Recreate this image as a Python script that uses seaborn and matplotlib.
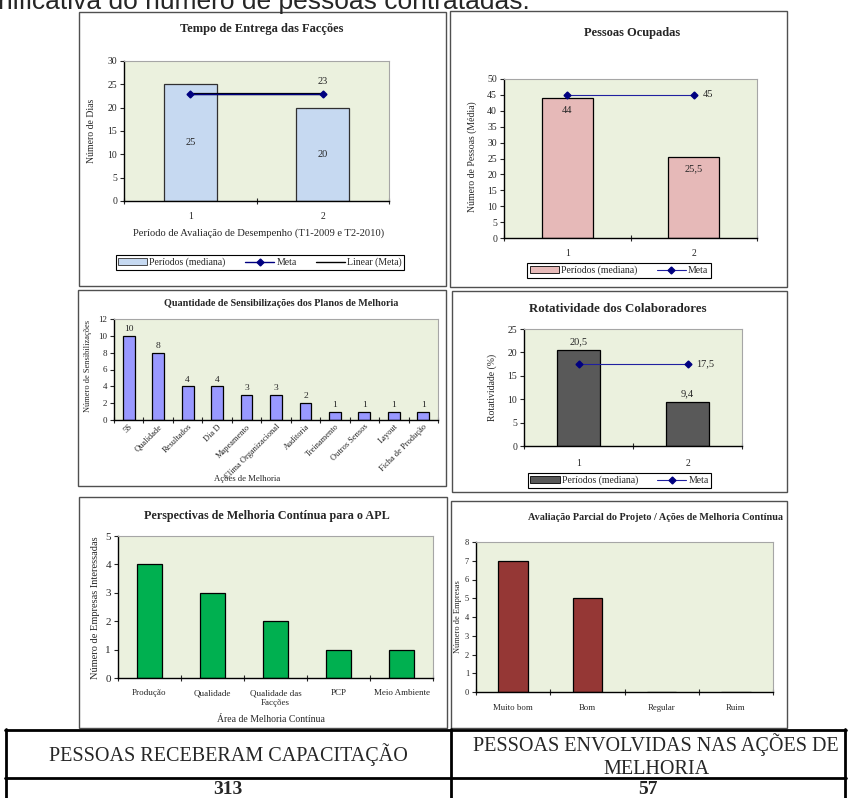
import numpy as np
import matplotlib
matplotlib.use("Agg")
import matplotlib.pyplot as plt
from matplotlib.patches import Rectangle, Patch
from matplotlib.lines import Line2D
import seaborn as sns

# ---------------- data ----------------
p1_periods = ["1", "2"]
p1_values = [25, 20]
p1_meta = [23, 23]

p2_periods = ["1", "2"]
p2_values = [44, 25.5]
p2_meta = [45, 45]

p3_actions = ["5S", "Qualidade", "Resultados", "Dia D", "Mapeamento",
              "Clima Organizacional", "Auditoria", "Treinamento",
              "Outros Sensos", "Layout", "Ficha de Produção"]
p3_values = [10, 8, 4, 4, 3, 3, 2, 1, 1, 1, 1]

p4_periods = ["1", "2"]
p4_values = [20.5, 9.4]
p4_meta = [17.5, 17.5]

p5_areas = ["Produção", "Qualidade", "Qualidade das\nFacções", "PCP", "Meio Ambiente"]
p5_values = [4, 3, 2, 1, 1]

p6_ratings = ["Muito bom", "Bom", "Regular", "Ruim"]
p6_values = [7, 5, 0, 0]

table_headers = ["PESSOAS RECEBERAM CAPACITAÇÃO", "PESSOAS ENVOLVIDAS NAS AÇÕES DE\nMELHORIA"]
table_values = ["313", "57"]

# ---------------- setup ----------------
sns.set_style("white")
plt.rcParams["font.family"] = ["Liberation Serif", "DejaVu Serif"]

W, H = 848, 798
fig = plt.figure(figsize=(W / 100, H / 100), dpi=100)
fig.patch.set_facecolor("white")

PLOT_BG = "#EBF1DE"
NAVY = "#000080"


def add_ax(x0, y0, x1, y1):
    return fig.add_axes([x0 / W, 1 - y1 / H, (x1 - x0) / W, (y1 - y0) / H])


def ftext(x, y, s, **kw):
    kw.setdefault("ha", "center")
    kw.setdefault("va", "center")
    return fig.text(x / W, 1 - y / H, s, **kw)


def box(x0, y0, x1, y1, lw=1.0, color="#505050"):
    fig.add_artist(Rectangle((x0 / W, 1 - y1 / H), (x1 - x0) / W, (y1 - y0) / H,
                             transform=fig.transFigure, fill=False,
                             edgecolor=color, lw=lw))


def hline(x0, x1, y, lw=2.0, color="black"):
    fig.add_artist(Line2D([x0 / W, x1 / W], [1 - y / H, 1 - y / H],
                          transform=fig.transFigure, color=color, lw=lw))


def vline(x, y0, y1, lw=2.0, color="black"):
    fig.add_artist(Line2D([x / W, x / W], [1 - y0 / H, 1 - y1 / H],
                          transform=fig.transFigure, color=color, lw=lw))


def style_axes(ax, n, ymax, ystep, yfs=6, xfs=6, xpad=8):
    ax.set_facecolor(PLOT_BG)
    ax.set_ylim(0, ymax)
    ax.set_yticks(np.arange(0, ymax + ystep / 2, ystep))
    ax.set_xlim(-0.5, n - 0.5)
    for s in ["left", "bottom"]:
        ax.spines[s].set_color("black")
        ax.spines[s].set_linewidth(1.0)
    for s in ["top", "right"]:
        ax.spines[s].set_color("#A6A6A6")
        ax.spines[s].set_linewidth(0.8)
    ax.tick_params(axis="y", direction="out", length=3, width=0.8,
                   labelsize=yfs, pad=2, left=True)
    ax.set_xticks(np.arange(-0.5, n), minor=True)
    ax.tick_params(axis="x", which="major", length=0, labelsize=xfs, pad=xpad)
    ax.tick_params(axis="x", which="minor", direction="inout", length=4,
                   width=0.8, bottom=True)
    ax.set_xlabel("")
    ax.set_ylabel("")
    ax.grid(False)


def legend(handles, labels, cx, cy, ncol, fs=7, colsp=2.0, hl=3.0):
    leg = fig.legend(handles, labels, loc="center",
                     bbox_to_anchor=(cx / W, 1 - cy / H), ncol=ncol,
                     fontsize=fs, frameon=True, fancybox=False,
                     edgecolor="black", framealpha=1, borderpad=0.25,
                     handlelength=hl, handletextpad=0.2, columnspacing=colsp,
                     borderaxespad=0)
    leg.get_frame().set_linewidth(0.8)
    return leg


def fmt(v):
    return f"{v:g}".replace(".", ",")


# ---------------- top cropped text ----------------
fig.text(-2 / W, 1 - 9 / H, "nificativa do número de pessoas contratadas.",
         family=["Liberation Sans", "DejaVu Sans"], fontsize=19,
         ha="left", va="baseline")

# ---------------- Panel 1 ----------------
box(79, 12, 446, 286)
ax1 = add_ax(124, 61, 389, 201)
c1 = "#C6D9F1"
sns.barplot(x=p1_periods, y=p1_values, color=c1, saturation=1, width=0.4,
            edgecolor="#303030", linewidth=0.9, ax=ax1)
pos1 = np.arange(len(p1_periods))
ax1.plot(pos1, p1_meta, color=NAVY, lw=1.0, marker="D", ms=3.5, zorder=4)
ax1.plot(pos1, p1_meta, color="black", lw=1.6, zorder=3)
ax1.bar_label(ax1.containers[0], labels=[fmt(v) for v in p1_values],
              label_type="center", fontsize=7.5)
ax1.annotate(fmt(p1_meta[-1]), (pos1[-1], p1_meta[-1]), xytext=(0, 8),
             textcoords="offset pixels", ha="center", va="bottom", fontsize=7.5)
style_axes(ax1, 2, 30, 5, yfs=7, xfs=7, xpad=8)
ftext(262, 29, "Tempo de Entrega das Facções", fontsize=9, weight="bold")
ftext(92, 131, "Número de Dias", rotation=90, fontsize=7)
ftext(259, 233, "Período de Avaliação de Desempenho (T1-2009 e T2-2010)", fontsize=7.6)
legend([Patch(facecolor=c1, edgecolor="#303030", lw=0.6),
        Line2D([], [], color=NAVY, lw=1, marker="D", ms=3.5),
        Line2D([], [], color="black", lw=1)],
       ["Períodos (mediana)", "Meta", "Linear (Meta)"], 260, 262.5, 3)

# ---------------- Panel 2 ----------------
box(450, 11, 787, 287)
ax2 = add_ax(504, 79, 757, 238)
c2 = "#E6B9B8"
sns.barplot(x=p2_periods, y=p2_values, color=c2, saturation=1, width=0.4,
            edgecolor="black", linewidth=0.9, ax=ax2)
pos2 = np.arange(len(p2_periods))
ax2.plot(pos2, p2_meta, color="#2020A0", lw=0.8, marker="D", ms=3.5,
         mfc=NAVY, mec=NAVY, zorder=4)
ax2.bar_label(ax2.containers[0], labels=[fmt(v) for v in p2_values],
              label_type="edge", padding=-12, fontsize=7.5)
ax2.annotate(fmt(p2_meta[-1]), (pos2[-1], p2_meta[-1]), xytext=(9, 0),
             textcoords="offset pixels", ha="left", va="center", fontsize=7.5)
style_axes(ax2, 2, 50, 5, yfs=7, xfs=7, xpad=8)
ftext(632, 33, "Pessoas Ocupadas", fontsize=9, weight="bold")
ftext(472, 157, "Número de Pessoas (Média)", rotation=90, fontsize=7)
legend([Patch(facecolor=c2, edgecolor="black", lw=0.6),
        Line2D([], [], color="#2020A0", lw=0.8, marker="D", ms=3.5,
               mfc=NAVY, mec=NAVY)],
       ["Períodos (mediana)", "Meta"], 619, 270.5, 2)

# ---------------- Panel 3 ----------------
box(78, 290, 446, 486)
ax3 = add_ax(114, 319, 438, 420)
c3 = "#9999FF"
sns.barplot(x=p3_actions, y=p3_values, color=c3, saturation=1, width=0.4,
            edgecolor="black", linewidth=0.9, ax=ax3)
ax3.bar_label(ax3.containers[0], labels=[fmt(v) for v in p3_values],
              label_type="edge", padding=2, fontsize=6.8)
style_axes(ax3, len(p3_actions), 12, 2, yfs=6.5, xfs=6, xpad=2)
for lab in ax3.get_xticklabels():
    lab.set_rotation(45)
    lab.set_ha("right")
    lab.set_rotation_mode("anchor")
ftext(281, 303, "Quantidade de Sensibilizações dos Planos de Melhoria",
      fontsize=7.3, weight="bold")
ftext(88, 366, "Número de Sensibilizações", rotation=90, fontsize=6)
ftext(247, 479, "Ações de Melhoria", fontsize=6.2)

# ---------------- Panel 4 ----------------
box(452, 291, 787, 492)
ax4 = add_ax(524, 329, 742, 446)
c4 = "#595959"
sns.barplot(x=p4_periods, y=p4_values, color=c4, saturation=1, width=0.4,
            edgecolor="black", linewidth=0.9, ax=ax4)
pos4 = np.arange(len(p4_periods))
ax4.plot(pos4, p4_meta, color="#2020A0", lw=0.8, marker="D", ms=3.5,
         mfc=NAVY, mec=NAVY, zorder=4)
ax4.bar_label(ax4.containers[0], labels=[fmt(v) for v in p4_values],
              label_type="edge", padding=3, fontsize=7.5)
ax4.annotate(fmt(p4_meta[-1]), (pos4[-1], p4_meta[-1]), xytext=(9, 0),
             textcoords="offset pixels", ha="left", va="center", fontsize=7.5)
style_axes(ax4, 2, 25, 5, yfs=7, xfs=7, xpad=9)
ftext(618, 309, "Rotatividade dos Colaboradores", fontsize=9.3, weight="bold")
ftext(492, 387, "Rotatividade (%)", rotation=90, fontsize=7)
legend([Patch(facecolor=c4, edgecolor="black", lw=0.6),
        Line2D([], [], color="#2020A0", lw=0.8, marker="D", ms=3.5,
               mfc=NAVY, mec=NAVY)],
       ["Períodos (mediana)", "Meta"], 619.5, 480.5, 2)

# ---------------- Panel 5 ----------------
box(79, 497, 447, 728)
ax5 = add_ax(118, 536, 433, 678)
c5 = "#00B050"
sns.barplot(x=p5_areas, y=p5_values, color=c5, saturation=1, width=0.4,
            edgecolor="black", linewidth=0.9, ax=ax5)
style_axes(ax5, len(p5_areas), 5, 1, yfs=8, xfs=6.5, xpad=8)
for lab in ax5.get_xticklabels():
    lab.set_va("top")
    lab.set_linespacing(1.3)
ftext(267, 516, "Perspectivas de Melhoria Contínua para o APL", fontsize=8.7, weight="bold")
ftext(96, 608, "Número de Empresas Interessadas", rotation=90, fontsize=7.5)
ftext(271, 720, "Área de Melhoria Contínua", fontsize=7)

# ---------------- Panel 6 ----------------
box(451, 501, 787, 728)
ax6 = add_ax(476, 542, 773, 692)
c6 = "#953735"
sns.barplot(x=p6_ratings, y=p6_values, color=c6, saturation=1, width=0.4,
            edgecolor="black", linewidth=0.9, ax=ax6)
style_axes(ax6, len(p6_ratings), 8, 1, yfs=6, xfs=6.3, xpad=9)
ftext(655, 518, "Avaliação Parcial do Projeto / Ações de Melhoria Contínua",
      fontsize=7.3, weight="bold")
ftext(458, 617, "Número de Empresas", rotation=90, fontsize=6)

# ---------------- Table ----------------
hline(5, 846, 730)
hline(5, 846, 778)
vline(6, 729, 799)
vline(451, 729, 799)
vline(845, 729, 799)
ftext(228, 761, table_headers[0], fontsize=14.5, va="baseline")
hdr2_lines = table_headers[1].split("\n")
ftext(656, 751.5, hdr2_lines[0], fontsize=14.5, va="baseline")
ftext(656, 774.5, hdr2_lines[1], fontsize=14.5, va="baseline")
ftext(228, 794, table_values[0], fontsize=14, weight="bold", va="baseline")
ftext(648, 794, table_values[1], fontsize=14, weight="bold", va="baseline")

fig.savefig("out.png", dpi=100, facecolor="white")
